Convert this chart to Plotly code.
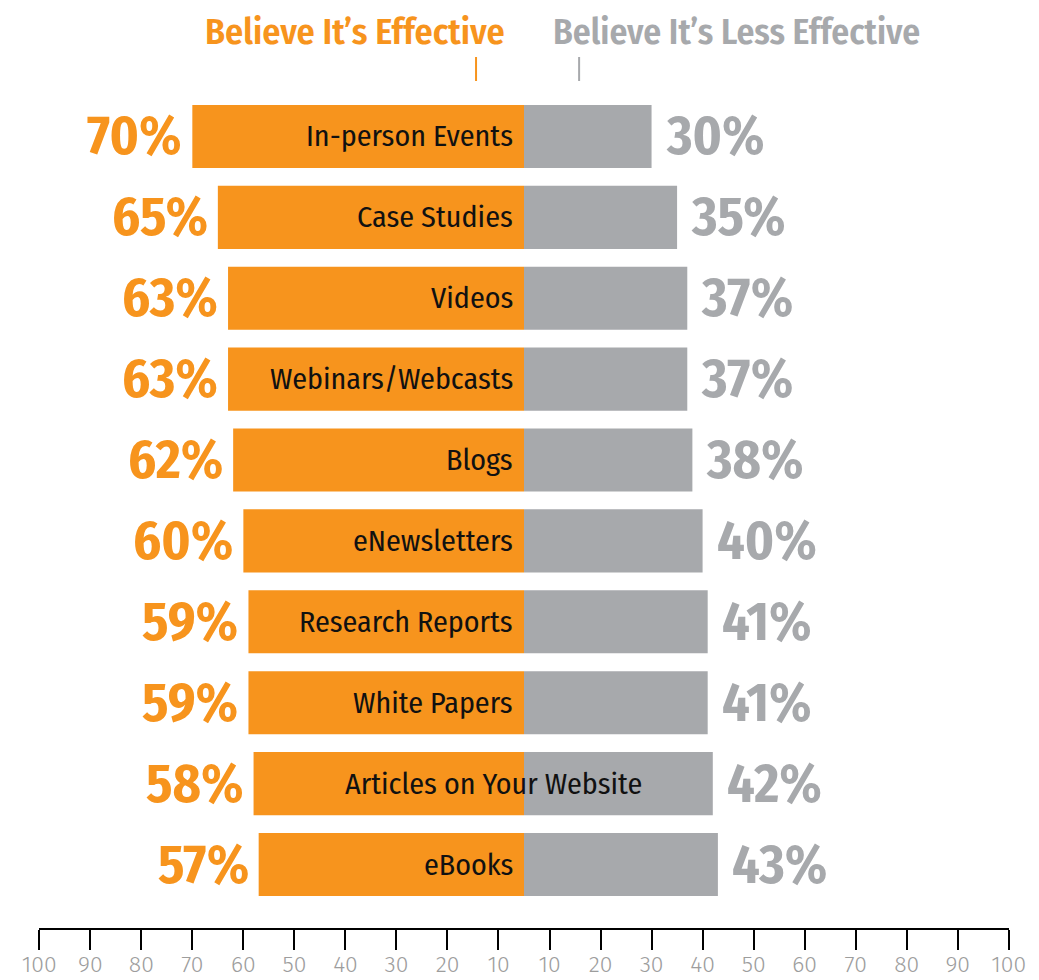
import plotly.graph_objects as go

# ---- data ----
categories = ["In-person Events", "Case Studies", "Videos", "Webinars/Webcasts", "Blogs",
              "eNewsletters", "Research Reports", "White Papers",
              "Articles on Your Website", "eBooks"]
effective = [70, 65, 63, 63, 62, 60, 59, 59, 58, 57]
less_effective = [30, 35, 37, 37, 38, 40, 41, 41, 42, 43]
tick_labels = [100, 90, 80, 70, 60, 50, 40, 30, 20, 10]
title_left = "Believe It’s Effective"
title_right = "Believe It’s Less Effective"

# ---- style ----
ORANGE = "#F7941D"
GRAY = "#A7A9AC"
AXIS_GRAY = "#9D9D9D"
BODY = 8                      # default page margin: the plot div starts at (8, 8)
W, H = 1039 - BODY, 980 - BODY
# plot area in page pixels
PL, PR, PT, PB = 39, 1009, 96, 928
ML, MR, MT, MB = PL - BODY, W - (PR - BODY), PT - BODY, H - (PB - BODY)
COND = "Fira Sans Condensed, Roboto Condensed, sans-serif"
AXFONT = "Fira Sans, Lato, sans-serif"
# the infographic's axis has no 0 tick: both "10" ticks sit half a step from the centre
CENTER_GAP = 5


def py(page_px):
    """page pixel row -> paper y"""
    return 1 - (page_px - PT) / (PB - PT)


left_len = [-(v - CENTER_GAP) for v in effective]
right_len = [v - CENTER_GAP for v in less_effective]

tickvals = [-(t - CENTER_GAP) for t in tick_labels] + [t - CENTER_GAP for t in reversed(tick_labels)]
ticktext = [str(t) for t in tick_labels] + [str(t) for t in reversed(tick_labels)]

fig = go.Figure()
fig.add_trace(go.Bar(y=categories, x=left_len, orientation="h", marker=dict(color=ORANGE, line=dict(width=0)),
                     customdata=effective, hovertemplate="%{y}: %{customdata}%<extra></extra>",
                     name=title_left))
fig.add_trace(go.Bar(y=categories, x=right_len, orientation="h", marker=dict(color=GRAY, line=dict(width=0)),
                     customdata=less_effective, hovertemplate="%{y}: %{customdata}%<extra></extra>",
                     name=title_right))

LABEL_OVERRIDES = {"Articles on Your Website": dict(xanchor="center", xshift=-31)}

ann = []
for cat, v, xl, w, xr in zip(categories, effective, left_len, less_effective, right_len):
    ann.append(dict(x=xl, y=cat, xref="x", yref="y", text=f"{v}%", showarrow=False,
                    xanchor="right", yanchor="middle", xshift=-8,
                    font=dict(family=COND, size=54, color=ORANGE, weight="bold")))
    ann.append(dict(x=xr, y=cat, xref="x", yref="y", text=f"{w}%", showarrow=False,
                    xanchor="left", yanchor="middle", xshift=12,
                    font=dict(family=COND, size=54, color=GRAY, weight="bold")))
    lab = dict(x=0, y=cat, xref="x", yref="y", text=cat, showarrow=False,
               xanchor="right", yanchor="middle", xshift=-9,
               font=dict(family=COND, size=30, color="#111111"))
    lab.update(LABEL_OVERRIDES.get(cat, {}))
    ann.append(lab)

ann.append(dict(x=-3.4, y=py(32), xref="x", yref="paper", text=title_left, showarrow=False,
                xanchor="right", yanchor="middle",
                font=dict(family=COND, size=36, color=ORANGE, weight=600)))
ann.append(dict(x=5.3, y=py(32), xref="x", yref="paper", text=title_right, showarrow=False,
                xanchor="left", yanchor="middle",
                font=dict(family=COND, size=35.5, color=GRAY, weight=600)))

shapes = [
    dict(type="line", xref="x", yref="paper", x0=-9.4, x1=-9.4, y0=py(57), y1=py(81),
         line=dict(color=ORANGE, width=2)),
    dict(type="line", xref="x", yref="paper", x0=10.8, x1=10.8, y0=py(57), y1=py(81),
         line=dict(color=GRAY, width=2)),
]

fig.update_layout(
    width=W, height=H,
    margin=dict(l=ML, r=MR, t=MT, b=MB, autoexpand=False),
    paper_bgcolor="white", plot_bgcolor="white",
    barmode="relative", bargap=0.22,
    showlegend=False,
    annotations=ann, shapes=shapes,
    xaxis=dict(range=[-95.05, 95.05], tickmode="array", tickvals=tickvals, ticktext=ticktext,
               showgrid=False, zeroline=False, showline=True, linecolor="black", linewidth=2,
               ticks="outside", ticklen=20, tickwidth=2, tickcolor="black", automargin=False,
               ticklabelstandoff=-6,
               tickfont=dict(family=AXFONT, size=23, color=AXIS_GRAY, weight=300), fixedrange=True),
    yaxis=dict(type="category", range=[9.785, -0.5], showticklabels=False, showgrid=False,
               zeroline=False, showline=False, ticks="", fixedrange=True, automargin=False),
)

fig.write_html("out.html")
